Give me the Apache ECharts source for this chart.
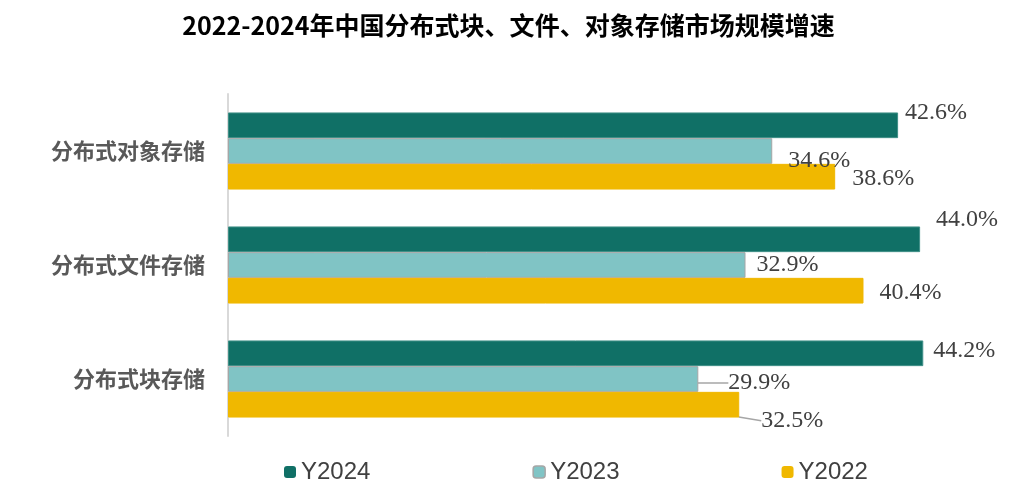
<!DOCTYPE html>
<html>
<head>
<meta charset="utf-8">
<script src="https://cdn.jsdelivr.net/npm/echarts@6/dist/echarts.min.js"></script>
<style>html,body{margin:0;padding:0;background:#fff}#c{width:1017px;height:498px}</style>
</head>
<body>
<div id="c"></div>
<script>
const title = '2022-2024年中国分布式块、文件、对象存储市场规模增速';
const categories = ['分布式对象存储', '分布式文件存储', '分布式块存储'];
const seriesNames = ['Y2024', 'Y2023', 'Y2022'];
const y2024 = [42.6, 44.0, 44.2];
const y2023 = [34.6, 32.9, 29.9];
const y2022 = [38.6, 40.4, 32.5];

const colors = ['#107066', '#80c4c5', '#f0b800'];
const borders = ['#3f8f87', '#a6a6a6', '#f0b800'];
// label nudges (dx, dy) per series per category
const labelNudges = [
  [[7, -12.5], [16, -19.5], [10, -3]],
  [[16, 10], [11, -0.5], [30, 4]],
  [[17, 2], [16, 2], [22, 16]]
];
const showGuide = [[false, false, false], [false, false, true], [false, false, true]];

const values = [y2024, y2023, y2022];
const chart = echarts.init(document.getElementById('c'), null, {renderer: 'canvas'});

const series = values.map((vals, si) => ({
  name: seriesNames[si],
  type: 'bar',
  barWidth: 25.7,
  barGap: '0%',
  itemStyle: {color: colors[si], borderColor: borders[si], borderWidth: 1},
  label: {
    show: true,
    position: 'right',
    distance: 0,
    fontFamily: '"Liberation Serif", "Times New Roman", serif',
    fontSize: 24,
    color: '#404040',
    formatter: p => p.value.toFixed(1) + '%'
  },
  labelLine: {show: false, lineStyle: {color: '#a6a6a6', width: 1.5}},
  labelLayout: p => ({dx: labelNudges[si][p.dataIndex][0], dy: labelNudges[si][p.dataIndex][1]}),
  data: vals.map((v, i) => ({value: v, labelLine: {show: showGuide[si][i]}})),
  animation: false
}));

chart.setOption({
  animation: false,
  title: {
    text: title,
    left: 'center',
    top: 8,
    textStyle: {fontFamily: '"Noto Sans CJK SC", sans-serif', fontSize: 25, fontWeight: 'bold', color: '#000'}
  },
  legend: {
    data: seriesNames.map((n, i) => ({
      name: n,
      itemStyle: {color: colors[i], borderColor: i === 1 ? '#a6a6a6' : colors[i], borderWidth: i === 1 ? 1.5 : 0}
    })),
    left: 279,
    top: 455,
    itemWidth: 12,
    itemHeight: 12,
    itemGap: 162,
    textStyle: {fontFamily: '"Liberation Sans", Arial, sans-serif', fontSize: 24, color: '#404040'}
  },
  grid: {left: 228, top: 94, width: 786.5, height: 342, containLabel: false},
  xAxis: {
    type: 'value', min: 0, max: 50, show: false
  },
  yAxis: {
    type: 'category',
    data: categories,
    inverse: true,
    axisLine: {show: true, lineStyle: {color: '#d9d9d9', width: 2}},
    axisTick: {show: false},
    axisLabel: {
      margin: 23,
      fontFamily: '"Noto Sans CJK SC", sans-serif',
      fontSize: 22,
      fontWeight: 'bold',
      color: '#595959'
    }
  },
  series: series
});
</script>
</body>
</html>
